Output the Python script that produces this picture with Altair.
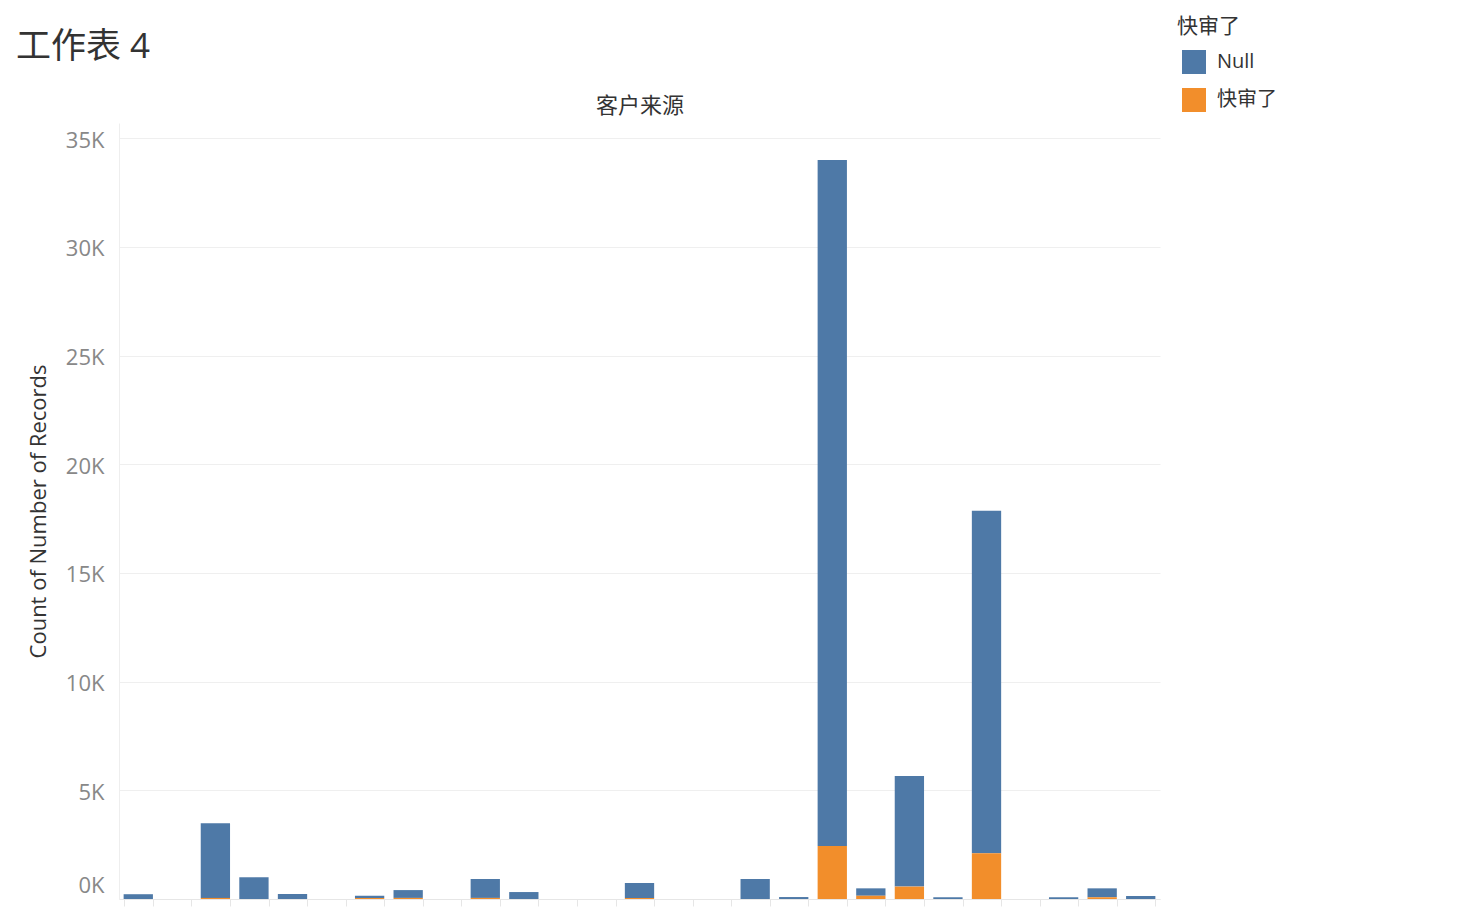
import altair as alt
import pandas as pd

FONT = "Open Sans, Noto Sans CJK SC, sans-serif"

categories = [f"来源{i:02d}" for i in range(1, 28)]
null_counts = [220, 0, 3430, 1000, 230, 0, 100, 360, 0, 870, 320, 0, 0, 690, 0, 0,
               920, 90, 31560, 340, 5090, 80, 15760, 0, 80, 410, 140]
kuaishen_counts = [0, 0, 50, 0, 0, 0, 50, 50, 0, 50, 0, 0, 0, 50, 0, 0,
                   0, 0, 2440, 150, 570, 0, 2100, 0, 0, 80, 0]
groups = ["Null", "快审了"]
colors = ["#4e79a7", "#f28e2b"]

rows = []
for c, n, k in zip(categories, null_counts, kuaishen_counts):
    rows.append({"客户来源": c, "快审了": "Null", "count": n, "ord": 1})
    rows.append({"客户来源": c, "快审了": "快审了", "count": k, "ord": 0})
df = pd.DataFrame(rows)

chart = alt.Chart(df).mark_bar().encode(
    x=alt.X("客户来源:N", sort=categories,
            scale=alt.Scale(domain=categories, paddingInner=0.24, paddingOuter=0.12),
            axis=alt.Axis(title="客户来源", labels=False, tickBand="extent",
                          tickColor="#e6e6e6", tickSize=7, domainColor="#e6e6e6",
                          titleY=-794, titleBaseline="middle", titleFontSize=22,
                          titleFontWeight="normal", titleColor="#333333", titleFont=FONT)),
    y=alt.Y("sum(count):Q", stack="zero",
            scale=alt.Scale(domain=[0, 35700], nice=False),
            axis=alt.Axis(title="Count of Number of Records",
                          values=[0, 5000, 10000, 15000, 20000, 25000, 30000, 35000],
                          labelExpr="format(datum.value/1000, 'd') + 'K'",
                          labelFontSize=22, labelColor="#888888", labelFont=FONT,
                          labelPadding=15, tickSize=0, labelFlush=True, labelFlushOffset=-4,
                          labelOffset=2,
                          domainColor="#eeeeee", gridColor="#efefef",
                          titleFontSize=22, titleFontWeight="normal",
                          titleColor="#333333", titleFont=FONT,
                          titleX=-81, titleY=388, titleBaseline="middle")),
    color=alt.Color("快审了:N", scale=alt.Scale(domain=groups, range=colors),
                    legend=alt.Legend(title="快审了", orient="none", legendX=1058, legendY=-107,
                                      symbolType="square", symbolSize=576, symbolStrokeWidth=0,
                                      symbolOffset=5,
                                      labelFontSize=20, titleFontSize=21, titleFontWeight="normal",
                                      labelFont=FONT, titleFont=FONT, labelColor="#333333",
                                      titleColor="#333333", rowPadding=14, titlePadding=13,
                                      labelOffset=11)),
    order=alt.Order("ord:Q"),
).properties(
    width=1041, height=776,
    autosize=alt.AutoSizeParams(type="none"),
    padding={"left": 111, "top": 115, "right": 304, "bottom": 8},
    title=alt.TitleParams("工作表 4", anchor="start", frame="group", dx=-103, offset=-49,
                          fontSize=35, fontWeight="normal", color="#333333", font=FONT),
).configure_view(stroke=None)

chart.save("out.html", embed_options={"renderer": "svg", "actions": False})
